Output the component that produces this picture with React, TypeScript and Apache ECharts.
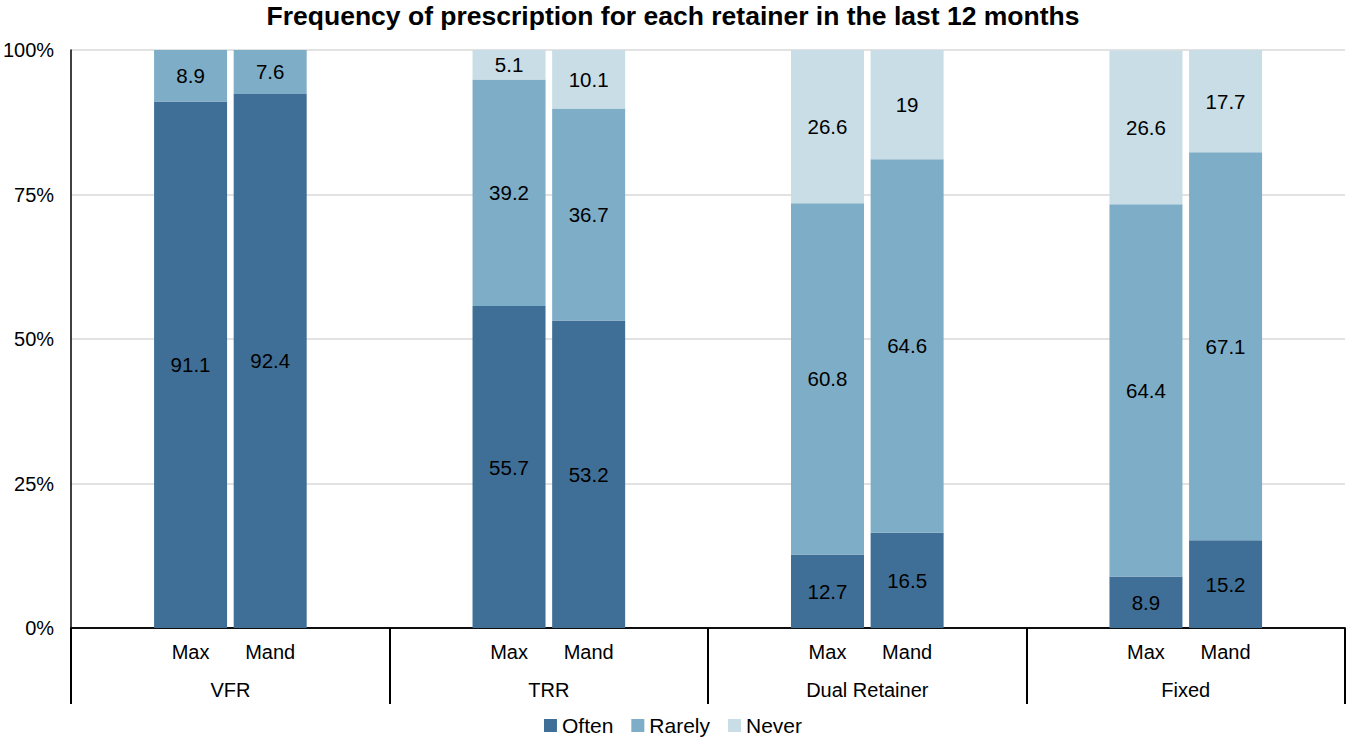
import React, { useEffect, useRef } from "react";
import * as echarts from "echarts";

const groups = ["VFR", "TRR", "Dual Retainer", "Fixed"];
const subLabels = ["Max", "Mand"];
const often = [91.1, 92.4, 55.7, 53.2, 12.7, 16.5, 8.9, 15.2];
const rarely = [8.9, 7.6, 39.2, 36.7, 60.8, 64.6, 64.4, 67.1];
const never = [0, 0, 5.1, 10.1, 26.6, 19, 26.6, 17.7];
const yTicks = [0, 25, 50, 75, 100];

const colors = { Often: "#3F6F97", Rarely: "#7EADC7", Never: "#C8DDE6" };
const FONT = "Liberation Sans, Arial, sans-serif";

// expand to 16 slots: spacer, Max, Mand, spacer per group
function expand(vals: number[]): (number | null)[] {
  const out: (number | null)[] = [];
  for (let g = 0; g < groups.length; g++) {
    out.push(null, vals[g * 2], vals[g * 2 + 1], null);
  }
  return out;
}
const slotLabels: string[] = [];
groups.forEach(() => slotLabels.push("", subLabels[0], subLabels[1], ""));

export default function App() {
  const ref = useRef<HTMLDivElement>(null);
  useEffect(() => {
    document.body.style.margin = "0";
    if (!ref.current) return;
    const chart = echarts.init(ref.current, null, { renderer: "svg" });
    const mk = (name: keyof typeof colors, vals: number[]) => ({
      name,
      type: "bar",
      stack: "total",
      xAxisIndex: 0,
      barWidth: 73,
      data: expand(vals),
      itemStyle: { color: colors[name] },
      label: {
        show: true,
        position: "inside",
        color: "#000",
        fontSize: 20.5,
        fontFamily: FONT,
        formatter: (p: any) => (p.value ? String(p.value) : ""),
      },
    });
    chart.setOption({
      animation: false,
      textStyle: { fontFamily: FONT },
      title: {
        text: "Frequency of prescription for each retainer in the last 12 months",
        left: "center",
        top: 0,
        padding: [2, 5, 5, 5],
        textStyle: { fontSize: 26.5, fontWeight: "bold", color: "#000", fontFamily: FONT },
      },
      legend: {
        bottom: 1,
        left: "center",
        icon: "rect",
        itemWidth: 13,
        itemHeight: 13,
        itemGap: 18,
        textStyle: { fontSize: 21, color: "#000", fontFamily: FONT },
        data: ["Often", "Rarely", "Never"],
      },
      grid: { left: 69, right: 1, top: 50, bottom: 114, containLabel: false },
      xAxis: [
        {
          type: "category",
          data: slotLabels,
          position: "bottom",
          axisLine: { show: true, lineStyle: { color: "#000", width: 1.5 } },
          axisTick: { show: false },
          axisLabel: { interval: 0, margin: 14, fontSize: 20, color: "#000", fontFamily: FONT },
        },
        {
          type: "category",
          data: groups,
          position: "bottom",
          axisLine: { show: true, lineStyle: { color: "#000", width: 1.5 } },
          axisTick: { show: true, length: 76, lineStyle: { color: "#000", width: 2 } },
          axisLabel: { interval: 0, margin: 52, fontSize: 20, color: "#000", fontFamily: FONT },
        },
      ],
      yAxis: {
        type: "value",
        min: yTicks[0],
        max: yTicks[yTicks.length - 1],
        interval: 25,
        axisLine: { show: true, lineStyle: { color: "#000", width: 1.5 } },
        axisTick: { show: false },
        splitLine: { lineStyle: { color: "#D9D9D9", width: 1.5 } },
        axisLabel: { formatter: "{value}%", fontSize: 20, color: "#000", margin: 17, fontFamily: FONT },
      },
      series: [mk("Often", often), mk("Rarely", rarely), mk("Never", never)],
    });
    return () => chart.dispose();
  }, []);
  return <div ref={ref} style={{ width: 1346, height: 742 }} />;
}
